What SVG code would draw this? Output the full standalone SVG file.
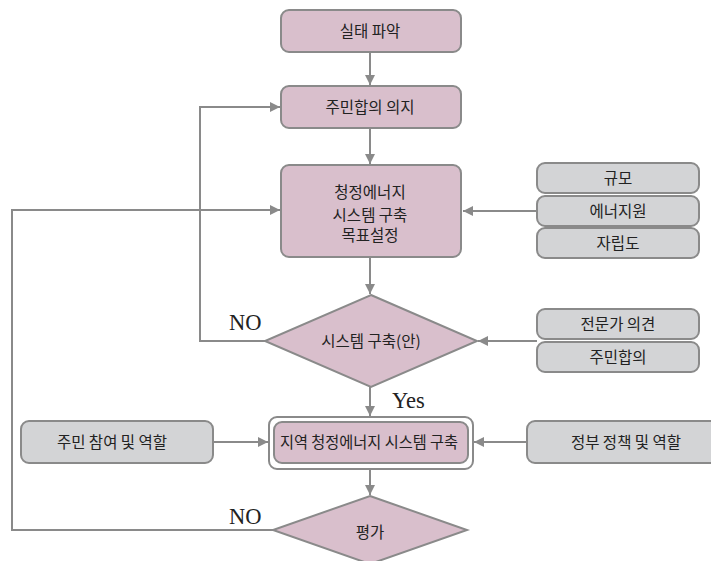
<svg xmlns="http://www.w3.org/2000/svg" width="711" height="561" viewBox="0 0 711 561">
<style>
.pk{fill:#d9bfcc;stroke:#8a8a8a;stroke-width:2}
.gy{fill:#d3d4d6;stroke:#8a8a8a;stroke-width:2}
.wt{fill:#ffffff;stroke:#8a8a8a;stroke-width:2}
.t{font-family:"Noto Sans CJK KR","Noto Sans",sans-serif;font-size:15.5px;fill:#222;text-anchor:middle}
.s{font-family:"Liberation Serif","DejaVu Serif",serif;font-size:22.5px;fill:#222}
.c{fill:none;stroke:#8a8a8a;stroke-width:2}
</style>
<defs>
<marker id="ah" markerUnits="userSpaceOnUse" markerWidth="12" markerHeight="12" refX="10" refY="5" orient="auto">
<path d="M0,0 L10,5 L0,10 Z" fill="#8a8a8a"/>
</marker>
</defs>
<rect width="711" height="561" fill="#ffffff"/>
<g id="connectors">
<path class="c" d="M370,52 V85" marker-end="url(#ah)"/>
<path class="c" d="M370,128 V164" marker-end="url(#ah)"/>
<path class="c" d="M370,257 V294" marker-end="url(#ah)"/>
<path class="c" d="M370,387 V416" marker-end="url(#ah)"/>
<path class="c" d="M370,469 V495" marker-end="url(#ah)"/>
<path class="c" d="M265,341 H200 V107 H280" marker-end="url(#ah)"/>
<path class="c" d="M273,530 H12 V210 H280" marker-end="url(#ah)"/>
<path class="c" d="M537,211 H463" marker-end="url(#ah)"/>
<path class="c" d="M537,341 H478" marker-end="url(#ah)"/>
<path class="c" d="M213,442 H268" marker-end="url(#ah)"/>
<path class="c" d="M527,442 H474" marker-end="url(#ah)"/>
</g>
<g id="n1"><rect class="pk" x="281" y="10" width="180" height="42" rx="8"/><text class="t" x="370" y="37">실태 파악</text></g>
<g id="n2"><rect class="pk" x="281" y="86" width="180" height="42" rx="8"/><text class="t" x="370" y="113">주민합의 의지</text></g>
<g id="n3"><rect class="pk" x="281" y="165" width="180" height="92" rx="8"/>
<text class="t" x="370" y="198">청정에너지</text><text class="t" x="370" y="220.5">시스템 구축</text><text class="t" x="370" y="241">목표설정</text></g>
<g id="r1"><rect class="gy" x="537" y="163" width="162" height="30" rx="8"/><text class="t" x="618" y="184">규모</text></g>
<g id="r2"><rect class="gy" x="537" y="196" width="162" height="30" rx="8"/><text class="t" x="618" y="216.5">에너지원</text></g>
<g id="r3"><rect class="gy" x="537" y="228" width="162" height="30" rx="8"/><text class="t" x="618" y="248.5">자립도</text></g>
<g id="d1"><polygon class="pk" points="371,295 477,341 371,387 265,341"/><text class="t" x="371" y="347">시스템 구축(안)</text></g>
<g id="r4"><rect class="gy" x="537" y="309" width="162" height="30" rx="8"/><text class="t" x="618" y="329.5">전문가 의견</text></g>
<g id="r5"><rect class="gy" x="537" y="342" width="162" height="30" rx="8"/><text class="t" x="618" y="362.5">주민합의</text></g>
<g id="n4"><rect class="wt" x="269" y="417" width="204" height="52" rx="8"/><rect class="pk" x="274" y="422" width="194" height="41" rx="8"/><text class="t" x="369" y="448" textLength="178" lengthAdjust="spacingAndGlyphs">지역 청정에너지 시스템 구축</text></g>
<g id="l1"><rect class="gy" x="21" y="421" width="192" height="42" rx="8"/><text class="t" x="112" y="448">주민 참여 및 역할</text></g>
<g id="l2"><rect class="gy" x="527" y="421" width="195" height="42" rx="8"/><text class="t" x="626" y="448">정부 정책 및 역할</text></g>
<g id="d2"><polygon class="pk" points="370,496 467,530 370,564 273,530"/><text class="t" x="370" y="538">평가</text></g>
<g id="labels">
<text class="s" x="229" y="330">NO</text>
<text class="s" x="392" y="408">Yes</text>
<text class="s" x="229" y="524">NO</text>
</g>
</svg>
